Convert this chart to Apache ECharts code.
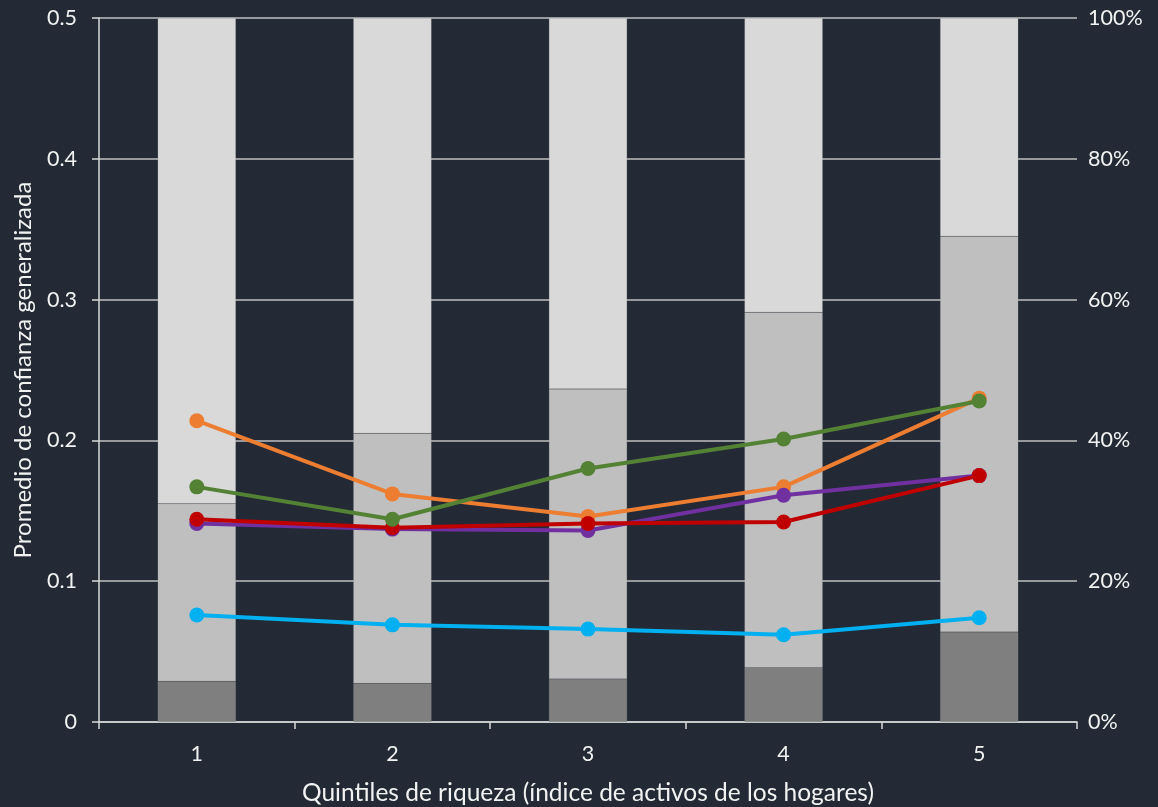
<!DOCTYPE html>
<html>
<head>
<meta charset="utf-8">
<script src="https://cdn.jsdelivr.net/npm/echarts@6/dist/echarts.min.js"></script>
<style>
html,body{margin:0;padding:0;background:#232a35;}
#c{width:1158px;height:807px;}
</style>
</head>
<body>
<div id="c"></div>
<script>
const categories = ['1','2','3','4','5'];
// stacked bar shares (%), right axis
const barDark  = [5.8, 5.5, 6.1, 7.7, 12.8];
const barMid   = [25.2, 35.5, 41.2, 50.5, 56.2];
const barLight = [69.0, 59.0, 52.7, 41.8, 31.0];
// lines (left axis)
const lineBlue   = [0.076, 0.069, 0.066, 0.062, 0.074];
const lineOrange = [0.214, 0.162, 0.146, 0.167, 0.230];
const linePurple = [0.141, 0.137, 0.136, 0.161, 0.175];
const lineRed    = [0.144, 0.138, 0.141, 0.142, 0.175];
const lineGreen  = [0.167, 0.144, 0.180, 0.201, 0.228];
const leftTicks = {min:0, max:0.5, interval:0.1};
const rightTicks = {min:0, max:100, interval:20};

const FONT = 'Lato';
const TXT = '#f2f2f2';
const chart = echarts.init(document.getElementById('c'), null, {renderer:'canvas'});

function bar(name, data, color){
  return {name, type:'bar', stack:'s', yAxisIndex:1, data, barWidth:'40%',
    itemStyle:{color, borderColor:'rgba(150,150,150,0.4)', borderWidth:0.5}, silent:true};
}
function line(name, data, color){
  return {name, type:'line', yAxisIndex:0, data, symbol:'circle', symbolSize:15,
    lineStyle:{color, width:4}, itemStyle:{color}, z:5};
}

chart.setOption({
  backgroundColor:'#232a35',
  animation:false,
  textStyle:{fontFamily:FONT},
  grid:{left:99, right:81, top:18, bottom:85, outerBoundsMode:'none', containLabel:false},
  xAxis:{type:'category', data:categories,
    name:'Quintiles de riqueza (índice de activos de los hogares)',
    nameLocation:'middle', nameGap:59,
    nameTextStyle:{color:TXT, fontSize:24.5, fontFamily:FONT},
    axisLine:{lineStyle:{color:'#d9d9d9', width:1.5}},
    axisTick:{show:true, length:7, lineStyle:{color:'#d9d9d9', width:1.5}},
    axisLabel:{color:TXT, fontSize:21.5, margin:21, fontFamily:FONT}},
  yAxis:[
    {type:'value', min:leftTicks.min, max:leftTicks.max, interval:leftTicks.interval,
     name:'Promedio de confianza generalizada', nameLocation:'middle', nameGap:64,
     nameTextStyle:{color:TXT, fontSize:24, fontFamily:FONT},
     axisLine:{show:true, lineStyle:{color:'#d9d9d9', width:1.5}},
     axisTick:{show:true, length:7, lineStyle:{color:'#d9d9d9', width:1.5}},
     axisLabel:{color:TXT, fontSize:21.5, margin:22, fontFamily:FONT,
       formatter:v=> v===0 ? '0' : v.toFixed(1)},
     splitLine:{show:true, lineStyle:{color:'#bfbfbf', width:1.5}}},
    {type:'value', min:rightTicks.min, max:rightTicks.max, interval:rightTicks.interval,
     position:'right',
     axisLine:{show:false}, axisTick:{show:false},
     axisLabel:{color:TXT, fontSize:21.5, margin:11, fontFamily:FONT, formatter:'{value}%'},
     splitLine:{show:false}}
  ],
  series:[
    bar('dark', barDark, '#7f7f7f'),
    bar('mid', barMid, '#bfbfbf'),
    bar('light', barLight, '#d9d9d9'),
    line('blue', lineBlue, '#00b0f0'),
    line('orange', lineOrange, '#ed7d31'),
    line('purple', linePurple, '#7030a0'),
    line('red', lineRed, '#c00000'),
    line('green', lineGreen, '#548235')
  ]
});
</script>
</body>
</html>
